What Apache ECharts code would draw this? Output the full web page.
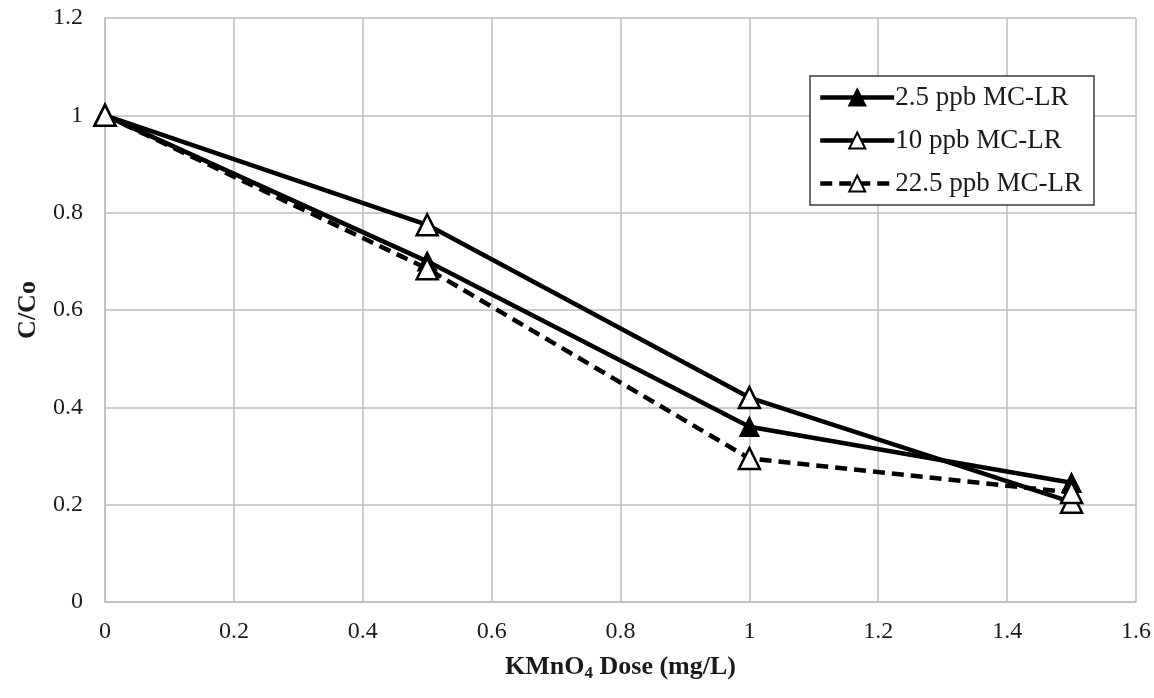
<!DOCTYPE html>
<html>
<head>
<meta charset="utf-8">
<title>KMnO4 dose vs C/Co</title>
<script src="https://cdn.jsdelivr.net/npm/echarts@6/dist/echarts.min.js"></script>
<style>
  html, body { margin: 0; padding: 0; background: #fff; }
  #chart { width: 1154px; height: 698px; }
</style>
</head>
<body>
<div id="chart"></div>
<script>
// KMnO4 dose (mg/L)
const doses = [0, 0.5, 1, 1.5];

// Remaining fraction C/Co for each initial MC-LR concentration
const seriesNames = ['2.5 ppb MC-LR', '10 ppb MC-LR', '22.5 ppb MC-LR'];
const mc25 = [1, 0.70, 0.36, 0.245];
const mc10 = [1, 0.775, 0.42, 0.205];
const mc225 = [1, 0.685, 0.295, 0.225];

const FONT = '"Liberation Serif", "DejaVu Serif", serif';
const GRID_COLOR = '#bdbdbd';
const TEXT_COLOR = '#1a1a1a';

function pairs(values) {
  return doses.map((d, i) => [d, values[i]]);
}

const chart = echarts.init(document.getElementById('chart'), null, { renderer: 'canvas' });

chart.setOption({
  backgroundColor: '#ffffff',
  animation: false,
  grid: { left: 105, right: 16, top: 18, bottom: 96, containLabel: false },
  legend: {
    right: 60,
    top: 76,
    orient: 'vertical',
    backgroundColor: '#ffffff',
    borderColor: '#3a3a3a',
    borderWidth: 1.5,
    padding: [8, 12, 8, 8],
    itemGap: 16,
    itemWidth: 74,
    itemHeight: 20,
    lineStyle: { width: 4.5, color: '#000' },
    textStyle: { fontFamily: FONT, fontSize: 27, color: TEXT_COLOR, padding: [0, 0, 0, -4] },
    data: seriesNames
  },
  xAxis: {
    type: 'value',
    min: 0,
    max: 1.6,
    interval: 0.2,
    name: '{b|KMnO}{s|4}{b| Dose (mg/L)}',
    nameLocation: 'middle',
    nameGap: 50,
    nameTextStyle: {
      rich: {
        b: { fontFamily: FONT, fontSize: 26, fontWeight: 'bold', color: TEXT_COLOR },
        s: { fontFamily: FONT, fontSize: 17, fontWeight: 'bold', color: TEXT_COLOR, verticalAlign: 'bottom', padding: [13, 0, 0, 0] }
      }
    },
    axisLine: { show: true, lineStyle: { color: GRID_COLOR, width: 1.5 } },
    axisTick: { show: false },
    axisLabel: { fontFamily: FONT, fontSize: 24, color: TEXT_COLOR, margin: 18 },
    splitLine: { show: true, lineStyle: { color: GRID_COLOR, width: 1.5 } }
  },
  yAxis: {
    type: 'value',
    min: 0,
    max: 1.2,
    interval: 0.2,
    name: 'C/Co',
    nameLocation: 'middle',
    nameGap: 64,
    nameRotate: 90,
    nameTextStyle: { fontFamily: FONT, fontSize: 26, fontWeight: 'bold', color: TEXT_COLOR },
    axisLine: { show: true, lineStyle: { color: GRID_COLOR, width: 1.5 } },
    axisTick: { show: false },
    axisLabel: { fontFamily: FONT, fontSize: 24, color: TEXT_COLOR, margin: 22 },
    splitLine: { show: true, lineStyle: { color: GRID_COLOR, width: 1.5 } }
  },
  series: [
    {
      name: seriesNames[0],
      type: 'line',
      data: pairs(mc25),
      symbol: 'triangle',
      symbolSize: 19,
      lineStyle: { color: '#000', width: 4.5 },
      itemStyle: { color: '#000', borderColor: '#000', borderWidth: 1.5 },
      z: 3
    },
    {
      name: seriesNames[1],
      type: 'line',
      data: pairs(mc10),
      symbol: 'triangle',
      symbolSize: 21,
      lineStyle: { color: '#000', width: 4.5 },
      itemStyle: { color: '#ffffff', borderColor: '#000', borderWidth: 2.5 },
      z: 4
    },
    {
      name: seriesNames[2],
      type: 'line',
      data: pairs(mc225),
      symbol: 'triangle',
      symbolSize: 21,
      lineStyle: { color: '#000', width: 4.5, type: [12, 7] },
      itemStyle: { color: '#ffffff', borderColor: '#000', borderWidth: 2.5 },
      z: 5
    }
  ]
});
</script>
</body>
</html>
